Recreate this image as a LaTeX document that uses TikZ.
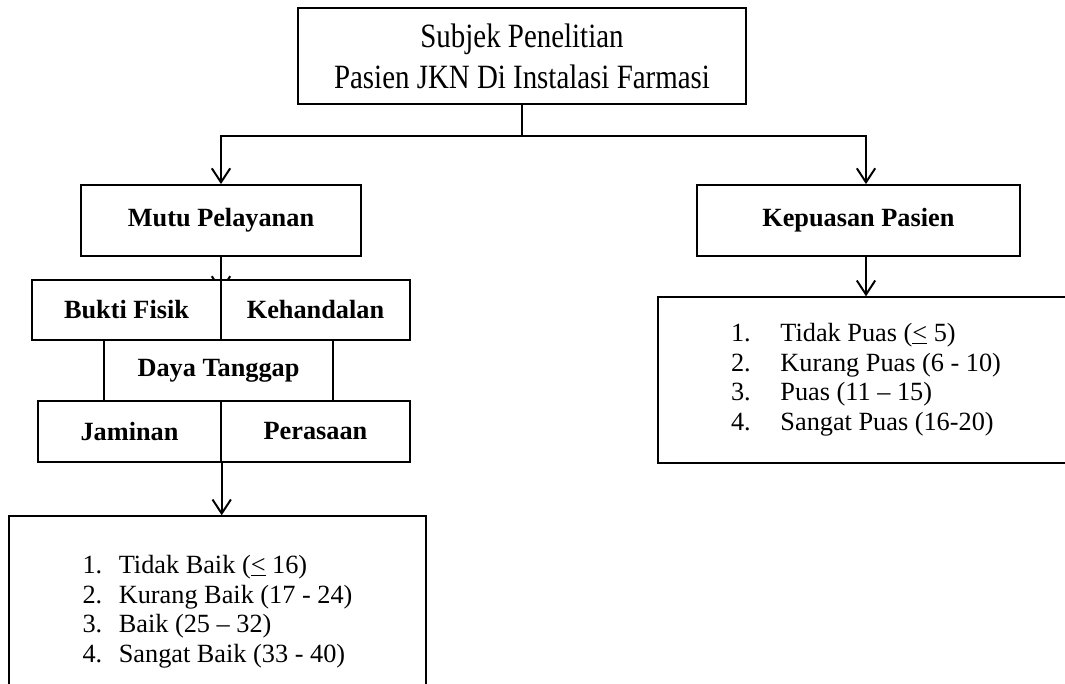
\documentclass[tikz,border=0pt]{standalone}
\usepackage{fontspec}
\setmainfont{Liberation Serif}
\newfontfamily\narrowserif[FakeStretch=0.85]{Liberation Serif}
\usetikzlibrary{arrows.meta, positioning, calc}

\begin{document}
\begin{tikzpicture}[
        box style/.style={rectangle, draw=black, line width=1pt, fill=white, align=center, inner sep=0pt, font=\fontsize{18.7}{21.3}\selectfont\bfseries},
        list style/.style={rectangle, draw=black, line width=1pt, fill=white, inner sep=0pt, font=\fontsize{18.7}{21.3}\selectfont},
        arrow/.style={-{Straight Barb[length=3.5mm, width=4.6mm]}, line width=1.4pt, black}
    ]
        \useasboundingbox (0,0) rectangle (26.625,-17.1);

        \node[box style, minimum width=11.2cm, minimum height=2.4cm, font=\narrowserif\fontsize{24.2}{29}\selectfont] (subjek) at (13.05,-1.4) {Subjek Penelitian\\Pasien JKN Di Instalasi Farmasi};
        \node[box style, minimum width=7cm, minimum height=1.78cm] (mutu) at (5.525,-5.51) {Mutu Pelayanan};
        \node[box style, minimum width=8.08cm, minimum height=1.78cm] (kepuasan) at (21.46,-5.51) {Kepuasan Pasien};
        \node[list style, minimum width=10.4cm, minimum height=4.15cm] (puaslist) at (21.65,-9.5) {\begin{tabular}{@{}l@{\hspace{1.13em}}l@{}}
            1. & Tidak Puas (\underline{<} 5)\\
            2. & Kurang Puas (6 - 10)\\
            3. & Puas (11 – 15)\\
            4. & Sangat Puas (16-20)
        \end{tabular}};

        % top split
        \draw[line width=1.4pt] (subjek.south) -- ++(0,-0.78) coordinate (split);
        \coordinate (kpx) at (kepuasan.north -| puaslist.north);
        \draw[arrow] (split) -| (mutu.north);
        \draw[arrow] (split) -| (kpx);
        \draw[arrow] (kepuasan.south -| puaslist.north) -- (puaslist.north);

        % dimensions of service quality
        \coordinate (rowtop) at (5.525,-7.3);
        \draw[arrow] (mutu.south) -- (rowtop);
        \node[box style, minimum width=4.725cm, minimum height=1.5cm] (bukti) at (3.1625,-7.75) {Bukti Fisik};
        \node[box style, minimum width=4.725cm, minimum height=1.5cm] (kehandalan) at (7.8875,-7.75) {Kehandalan};
        \node[box style, minimum width=5.725cm, minimum height=1.525cm] (daya) at (5.4625,-9.2625) {Daya Tanggap};
        \node[box style, minimum width=4.575cm, minimum height=1.525cm] (jaminan) at (3.2375,-10.7875) {Jaminan};
        \node[box style, minimum width=4.725cm, minimum height=1.525cm] (perasaan) at (7.8875,-10.7875) {Perasaan};

        \node[list style, minimum width=10.425cm, minimum height=4.8cm] (baiklist) at (5.4375,-15.3) {\begin{tabular}{@{}l@{\hspace{0.63em}}l@{}}
            1. & Tidak Baik (\underline{<} 16)\\
            2. & Kurang Baik (17 - 24)\\
            3. & Baik (25 – 32)\\
            4. & Sangat Baik (33 - 40)
        \end{tabular}};
        \draw[arrow] (jaminan.south east) -- (jaminan.south east |- baiklist.north);
    \end{tikzpicture}
\end{document}
